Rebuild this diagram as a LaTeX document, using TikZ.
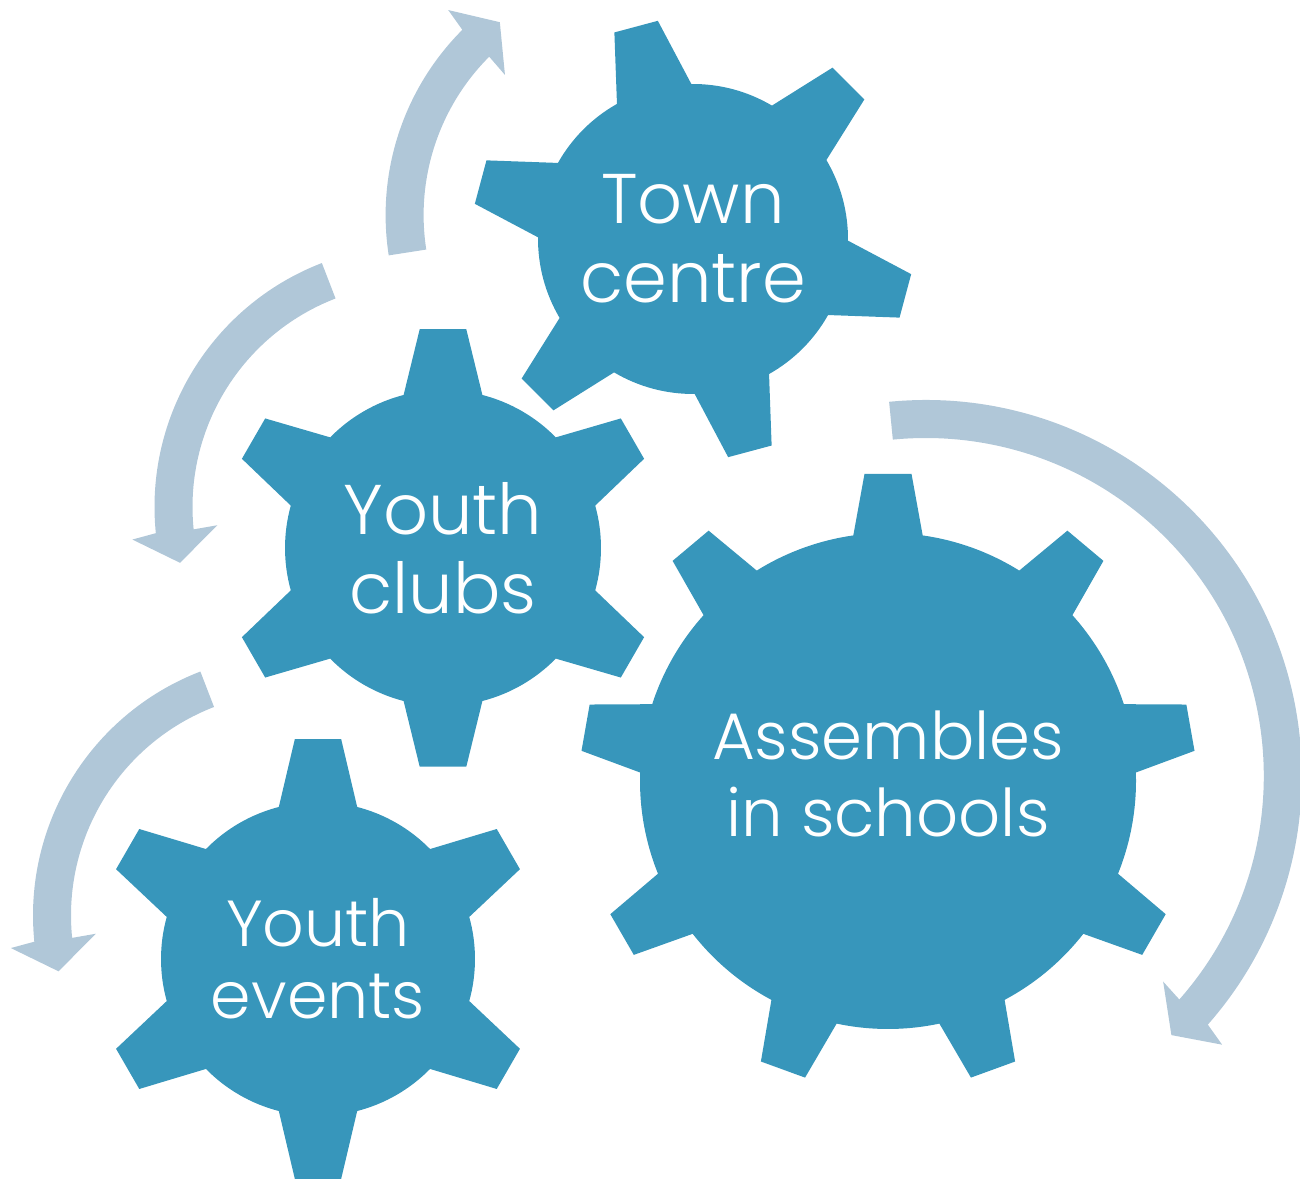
\documentclass[tikz,border=0pt]{standalone}
\usepackage{fontspec}
\setmainfont{Poppins}[UprightFont={* Light}]
\usetikzlibrary{calc}
\definecolor{gearblue}{RGB}{55,150,187}
\definecolor{arrowgrey}{RGB}{176,199,216}
\tikzset{
  gearfill/.style={fill=gearblue},
  arrowfill/.style={fill=arrowgrey},
  gearlabel/.style={text=white, align=center, inner sep=0pt, font=\fontsize{20}{22.5}\selectfont},
}
% (cx,cy)(teeth:first angle:tip radius:body radius:tip half width:base half width)
\def\gear(#1,#2)(#3:#4:#5:#6:#7:#8){%
  \pgfmathsetmacro\gstep{360/#3}%
  \pgfmathsetmacro\gdt{asin(#7/#5)}%
  \pgfmathsetmacro\gdb{asin(#8/#6)}%
  \pgfmathtruncatemacro\glast{#3-1}%
  \fill[gearfill,shift={(#1,#2)}] ({#4-\gdb}:#6)
    \foreach \k in {0,...,\glast}{
      -- ({#4+\k*\gstep-\gdt}:#5) -- ({#4+\k*\gstep+\gdt}:#5)
      -- ({#4+\k*\gstep+\gdb}:#6)
      arc[start angle={#4+\k*\gstep+\gdb}, end angle={#4+(\k+1)*\gstep-\gdb}, radius=#6]
    } -- cycle;}
% (cx,cy)(from angle:to angle:mid radius)
\def\cyclearrow(#1,#2)(#3:#4:#5){%
  \pgfmathsetmacro\adir{sign(#4-#3)}%
  \pgfmathsetmacro\atip{#4+\adir*32/#5*57.2958}%
  \fill[arrowfill,shift={(#1,#2)}] (#3:{#5+19})
    arc[start angle=#3, end angle=#4, radius={#5+19}]
    -- ({#4+\adir*0.8}:{#5+43}) -- (\atip:#5) -- ({#4-\adir*0.5}:{#5-43})
    -- (#4:{#5-19}) arc[start angle=#4, end angle=#3, radius={#5-19}] -- cycle;}

\begin{document}
\begin{tikzpicture}[x=0.01cm, y=0.01cm]
		%%%%% START %%%%%
		\useasboundingbox (0,0) rectangle (1300,1179);
		
		\cyclearrow(647.6,963.9)(188.85:135:243);
		\cyclearrow(416,672)(111.1:185.75:242.5);
		\cyclearrow(294.5,263.5)(111.1:185.75:242.5);
		\cyclearrow(925.8,403)(95.6:-41.4:357);
		
		\gear(693,940)(6:45:221:155:22.5:38.5);
		\gear(443,631)(6:30:220:158:23.3:39.4);
		\gear(318,220)(6:30:221:157:23.2:39.2);
		\gear(888,398)(9:10:308:248:23.5:34.7);
		
		\node[gearlabel] (town) at (693,940) {Town\\centre};
		\node[gearlabel] (clubs) at (443,631) {Youth\\clubs};
		\node[gearlabel, font=\fontsize{18.5}{20.5}\selectfont] (events) at (318,220) {Youth\\events};
		\node[gearlabel, font=\fontsize{18.7}{22}\selectfont] (schools) at (888,405) {Assembles\\in schools};
		%%%%% END %%%%%
\end{tikzpicture}
\end{document}
